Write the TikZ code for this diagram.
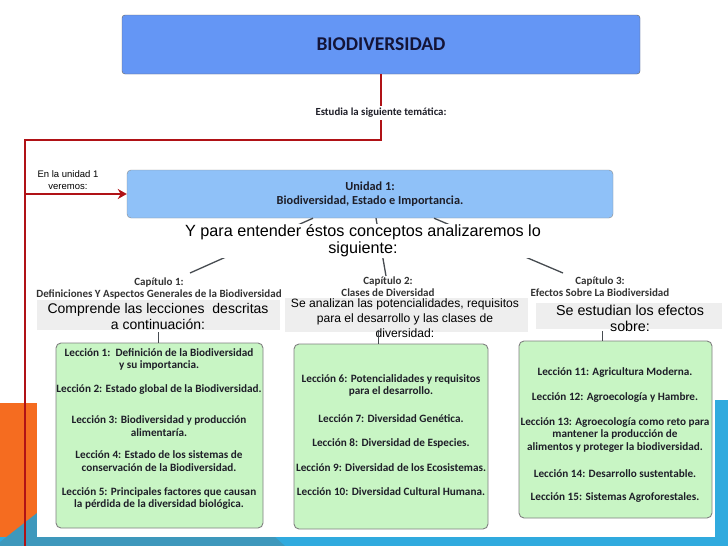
\documentclass[tikz,border=0pt]{standalone}
\usepackage{fontspec}
\setmainfont{Liberation Sans}
\newfontfamily\cb{Carlito}
\usetikzlibrary{arrows.meta}
\definecolor{topblue}{RGB}{100,150,245}
\definecolor{unitblue}{RGB}{143,193,248}
\definecolor{lgreen}{RGB}{200,245,196}
\definecolor{redl}{RGB}{176,18,22}
\definecolor{orangebg}{RGB}{245,108,32}
\definecolor{bluebg}{RGB}{48,170,222}
\definecolor{steelbg}{RGB}{62,152,188}
\definecolor{greybox}{RGB}{238,238,238}
\definecolor{darktxt}{RGB}{30,30,40}
\definecolor{navytxt}{RGB}{20,20,55}
\definecolor{connc}{RGB}{70,75,80}
\begin{document}
\begin{tikzpicture}[x=1pt,y=-1pt,
  topbox/.style={draw=black!60, fill=topblue, rounded corners=3pt, minimum width=518pt, minimum height=59pt, inner sep=0pt, font=\cb\bfseries\fontsize{19.5}{22}\selectfont, text=navytxt},
  unitbox/.style={draw=black!45, fill=unitblue, rounded corners=4pt, minimum width=486pt, minimum height=48pt, inner sep=0pt, align=center, font=\cb\bfseries\fontsize{12.3}{14}\selectfont, text=darktxt},
  redline/.style={draw=redl, line width=2.6pt},
  conn/.style={draw=connc, line width=1.3pt},
  chap/.style={align=center, font=\cb\bfseries\fontsize{11}{12}\selectfont, text=black!80, inner sep=0pt},
  note/.style={align=center, font=\fontsize{14}{16.5}\selectfont, text=black, inner sep=0pt},
  greenbox/.style={draw=black!50, fill=lgreen, rounded corners=5pt, line width=0.9pt, inner sep=0pt},
  lesson/.style={align=center, font=\cb\bfseries\fontsize{11.2}{12.8}\selectfont, text=darktxt, inner sep=0pt}
]
\useasboundingbox (0,0) rectangle (728,546);
% background
\fill[white] (0,0) rectangle (728,546);
\fill[orangebg] (0,403) rectangle (37,546);
\fill[bluebg] (660,400) rectangle (728,546);
\fill[bluebg] (0,537) rectangle (728,546);
\fill[steelbg] (37,513) -- (0,542) -- (0,546) -- (285,546) -- (275,537) -- (37,537) -- cycle;
\fill[white] (37,0) rectangle (715,537);

% top box
\node[topbox] (top) at (381,44.5) {BIODIVERSIDAD};
\node[unitbox] (unidad) at (370,194) {Unidad 1:\\Biodiversidad, Estado e Importancia.};

% red path
\coordinate (c1) at (381,140);
\coordinate (c2) at (25,140);
\coordinate (c3) at (25,546);
\draw[redline] (top.south) -- (c1) -- (c2) -- (c3);
\draw[redline, -{Stealth[length=9pt,width=10pt]}] (c2 |- unidad.west) -- (unidad.west);
\node[fill=white, inner sep=2pt, font=\cb\bfseries\fontsize{10.8}{12}\selectfont, text=darktxt] (estudia) at (381,113) {Estudia la siguiente temática:};
\node[align=center, font=\fontsize{9.5}{12}\selectfont, inner sep=0pt] (enla) at (68,180) {En la unidad 1\\veremos:};

% connectors from unit
\coordinate (k1) at (190,273);
\coordinate (k2) at (386,276);
\coordinate (k3) at (563,273);
\draw[conn] ([xshift=-57pt]unidad.south) -- (k1);
\draw[conn] ([xshift=6pt]unidad.south) -- (k2);
\draw[conn] ([xshift=64pt]unidad.south) -- (k3);
\node[fill=white, align=center, inner sep=1pt, font=\fontsize{16.2}{17}\selectfont] (ypara) at (363,241) {Y para entender éstos conceptos analizaremos lo\\siguiente:};

% chapter headings
\node[chap] (cap1) at (159,289) {Capítulo 1:\\Definiciones Y Aspectos Generales de la Biodiversidad};
\node[chap] (cap2) at (388,287) {Capítulo 2:\\Clases de Diversidad};
\node[chap] (cap3) at (600,286.5) {Capítulo 3:\\Efectos Sobre La Biodiversidad};

% grey note boxes
\fill[greybox] (37,300) rectangle (280,330);
\fill[greybox] (285,298) rectangle (528,332);
\fill[greybox] (536,303) rectangle (722,329);
\node[note] (t1) at (158,316.5) {Comprende las lecciones\ \ descritas\\a continuación:};
\node[note, font=\fontsize{12.1}{15}\selectfont] (t2) at (405,318) {Se analizan las potencialidades, requisitos\\para el desarrollo y las clases de\\diversidad:};
\node[note, font=\fontsize{14.3}{16}\selectfont] (t3) at (630,318) {Se estudian los efectos\\sobre:};

% green boxes
\node[greenbox, minimum width=207pt, minimum height=185pt] (gb1) at (159.5,435.5) {};
\node[greenbox, minimum width=194pt, minimum height=185pt] (gb2) at (391,436.5) {};
\node[greenbox, minimum width=193pt, minimum height=177pt] (gb3) at (615.5,429.5) {};

% short connectors
\coordinate (d1) at (158,332);
\coordinate (d2) at (378,330);
\coordinate (d3) at (602,331);
\draw[conn, line width=1pt] (d1) -- (d1 |- gb1.north);
\draw[conn, line width=1pt] (d2) -- (d2 |- gb2.north);
\draw[conn, line width=1pt] (d3) -- (d3 |- gb3.north);

% lessons
\node[lesson] (l1) at (159,359.5) {Lección 1:\ \ Definición de la Biodiversidad\\y su importancia.};
\node[lesson] (l2) at (159,390) {Lección 2: Estado global de la Biodiversidad.};
\node[lesson] (l3) at (159,426.5) {Lección 3: Biodiversidad y producción\\alimentaría.};
\node[lesson] (l4) at (159,461) {Lección 4: Estado de los sistemas de\\conservación de la Biodiversidad.};
\node[lesson] (l5) at (159,498.5) {Lección 5: Principales factores que causan\\la pérdida de la diversidad biológica.};

\node[lesson] (l6) at (391,385.5) {Lección 6: Potencialidades y requisitos\\para el desarrollo.};
\node[lesson] (l7) at (391,419) {Lección 7: Diversidad Genética.};
\node[lesson] (l8) at (391,443) {Lección 8: Diversidad de Especies.};
\node[lesson] (l9) at (391,468) {Lección 9: Diversidad de los Ecosistemas.};
\node[lesson] (l10) at (391,492) {Lección 10: Diversidad Cultural Humana.};

\node[lesson] (l11) at (615,373) {Lección 11: Agricultura Moderna.};
\node[lesson] (l12) at (615,398) {Lección 12: Agroecología y Hambre.};
\node[lesson] (l13) at (615,435) {Lección 13: Agroecología como reto para\\mantener la producción de\\alimentos y proteger la biodiversidad.};
\node[lesson] (l14) at (615,474) {Lección 14: Desarrollo sustentable.};
\node[lesson] (l15) at (615,498) {Lección 15: Sistemas Agroforestales.};
\end{tikzpicture}
\end{document}
